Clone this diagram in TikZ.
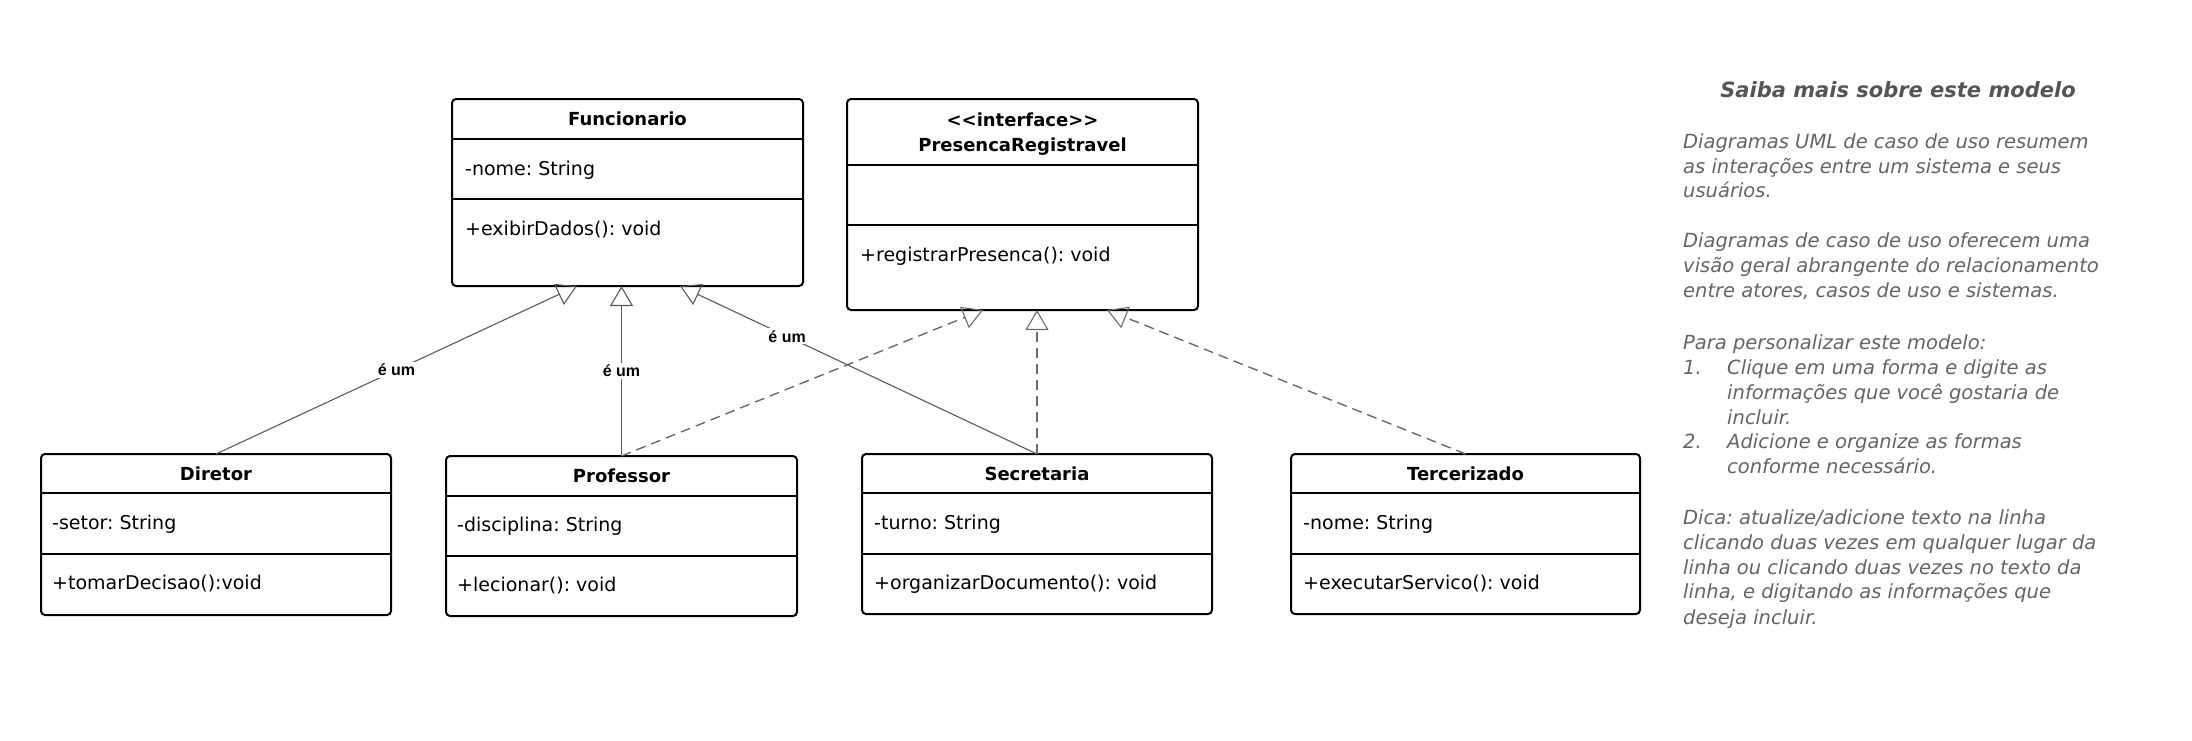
\documentclass[tikz,border=0pt]{standalone}
\usepackage{fontspec}
\setmainfont{DejaVu Sans}
\newfontfamily\edgefont{Liberation Sans}
\usetikzlibrary{arrows.meta}
\frenchspacing
\definecolor{linegray}{HTML}{5A5A5A}
\definecolor{dashgray}{HTML}{6A6A6A}
\definecolor{notegray}{HTML}{646464}
\definecolor{notetitle}{HTML}{555555}

\tikzset{
  classbox/.style={draw=black, line width=2pt, rounded corners=4pt, inner sep=0pt, outer sep=0pt, fill=white},
  sepline/.style={draw=black, line width=2pt},
  ctitle/.style={font=\fontsize{18}{25}\selectfont\bfseries, align=center, inner sep=0pt},
  member/.style={font=\fontsize{19}{24}\selectfont, anchor=west, inner sep=0pt},
  opentri/.style={-{Triangle[open, length=20pt, width=23pt, line width=1.1pt]}},
  inherit/.style={draw=linegray, line width=1.1pt, opentri},
  realize/.style={draw=dashgray, line width=1.4pt, dash pattern=on 10pt off 6pt, opentri},
  isa/.style={font=\edgefont\fontsize{16}{18}\selectfont\bfseries, fill=white, inner sep=2pt},
  note/.style={font=\fontsize{19.5}{25}\selectfont\itshape, text=notegray, anchor=mid west, inner sep=0pt},
}

\begin{document}
\begin{tikzpicture}[x=1pt, y=-1pt]
\useasboundingbox (0,0) rectangle (2192,740);

% ---- class boxes ----
\node[classbox, minimum width=351pt, minimum height=187pt] (func) at (627.5,192.5) {};
\node[classbox, minimum width=351pt, minimum height=211pt] (pres) at (1022.5,204.5) {};
\node[classbox, minimum width=350pt, minimum height=161pt] (dir)  at (216,534.5) {};
\node[classbox, minimum width=351pt, minimum height=160pt] (prof) at (621.5,536) {};
\node[classbox, minimum width=350pt, minimum height=160pt] (sec)  at (1037,534) {};
\node[classbox, minimum width=349pt, minimum height=160pt] (terc) at (1465.5,534) {};

% compartment separators
\foreach \b/\h/\a in {func/40/100, pres/66/126, dir/39/100, prof/40/100, sec/39/100, terc/39/100}{
  \draw[sepline] ([yshift=-\h pt]\b.north west) -- ([yshift=-\h pt]\b.north east);
  \draw[sepline] ([yshift=-\a pt]\b.north west) -- ([yshift=-\a pt]\b.north east);
}

% ---- class texts ----
\node[ctitle] (funcT) at (627.5,119) {Funcionario};
\node[member] (funcA) at (465,170) {-nome: String};
\node[member] (funcM) at (465,230) {+exibirDados(): void};

\node[ctitle] (presT) at (1022.5,134) {{<}{<}interface{>}{>}\\PresencaRegistravel};
\node[member] (presM) at (860,256) {+registrarPresenca(): void};

\node[ctitle] (dirT) at (216,474) {Diretor};
\node[member] (dirA) at (52,524) {-setor: String};
\node[member] (dirM) at (52,584) {+tomarDecisao():void};

\node[ctitle] (profT) at (621.5,476) {Professor};
\node[member] (profA) at (457,526) {-disciplina: String};
\node[member] (profM) at (457,586) {+lecionar(): void};

\node[ctitle] (secT) at (1037,474) {Secretaria};
\node[member] (secA) at (874,524) {-turno: String};
\node[member] (secM) at (874,584) {+organizarDocumento(): void};

\node[ctitle] (tercT) at (1465.5,474) {Tercerizado};
\node[member] (tercA) at (1303,524) {-nome: String};
\node[member] (tercM) at (1303,584) {+executarServico(): void};

% ---- generalizations ----
\draw[inherit] (dir.north) -- node[isa, pos=0.5] (l1) {é um} ([xshift=125pt]func.south west);
\draw[inherit] (prof.north) -- node[isa, pos=0.5] (l2) {é um} (prof.north |- func.south);
\draw[inherit] (sec.north) -- node[isa, pos=0.70] (l3) {é um} ([xshift=228pt]func.south west);

% ---- realizations ----
\draw[realize] (prof.north) -- ([xshift=136pt]pres.south west);
\draw[realize] (sec.north) -- (sec.north |- pres.south);
\draw[realize] (terc.north) -- ([xshift=260pt]pres.south west);

% ---- side notes ----
\node[font=\fontsize{21}{25}\selectfont\bfseries\itshape, text=notetitle, inner sep=0pt] (ntitle) at (1898,90) {Saiba mais sobre este modelo};
\node[note] (n1) at (1683,146) {Diagramas UML de caso de uso resumem};
\node[note] (n2) at (1683,171) {as interações entre um sistema e seus};
\node[note] (n3) at (1683,195) {usuários.};
\node[note] (n4) at (1683,245) {Diagramas de caso de uso oferecem uma};
\node[note] (n5) at (1683,270) {visão geral abrangente do relacionamento};
\node[note] (n6) at (1683,295) {entre atores, casos de uso e sistemas.};
\node[note] (n7) at (1683,347) {Para personalizar este modelo:};
\node[note] (n8a) at (1683,372) {1.};
\node[note] (n8) at (1727,372) {Clique em uma forma e digite as};
\node[note] (n9) at (1727,397) {informações que você gostaria de};
\node[note] (n10) at (1727,422) {incluir.};
\node[note] (n11a) at (1683,446) {2.};
\node[note] (n11) at (1727,446) {Adicione e organize as formas};
\node[note] (n12) at (1727,471) {conforme necessário.};
\node[note] (n13) at (1683,522) {Dica: atualize/adicione texto na linha};
\node[note] (n14) at (1683,547) {clicando duas vezes em qualquer lugar da};
\node[note] (n15) at (1683,572) {linha ou clicando duas vezes no texto da};
\node[note] (n16) at (1683,596) {linha, e digitando as informações que};
\node[note] (n17) at (1683,622) {deseja incluir.};
\end{tikzpicture}
\end{document}
